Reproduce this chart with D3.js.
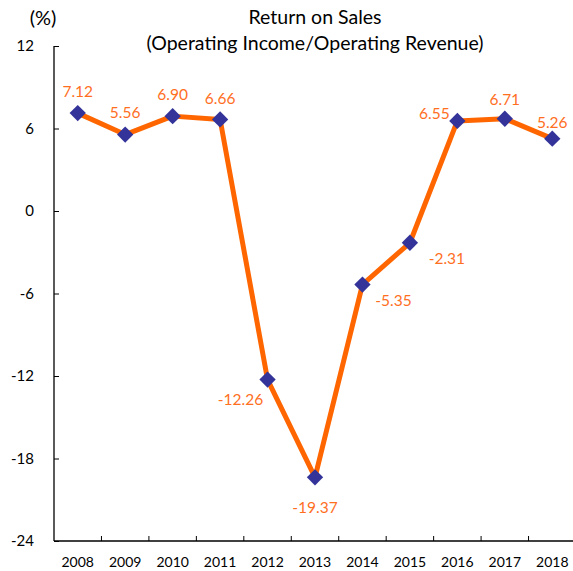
<!DOCTYPE html>
<html>
<head>
<meta charset="utf-8">
<script src="https://cdn.jsdelivr.net/npm/d3@7"></script>
<style>
  body { margin: 0; background: #fff; }
  svg { font-family: Lato, "Open Sans", sans-serif; }
</style>
</head>
<body>
<svg id="chart" width="573" height="571"></svg>
<script>
const years = ['2008', '2009', '2010', '2011', '2012', '2013', '2014', '2015', '2016', '2017', '2018'];
const values = [7.12, 5.56, 6.90, 6.66, -12.26, -19.37, -5.35, -2.31, 6.55, 6.71, 5.26];
const yTicks = [12, 6, 0, -6, -12, -18, -24];
// label offsets per point [dx, dy]
const labelOffsets = [
    [0, -22], [0, -22], [0, -22], [0, -21], [-27, 20], [0, 30],
    [31, 16], [37, 16], [-23, -7], [0, -19], [0, -16]
];

const svg = d3.select('#chart');
const plotLeft = 54;
const plotRight = 576;
const plotTop = 46;
const plotBottom = 541;

const x = d3.scaleBand().domain(years).range([plotLeft, plotRight]);
const y = d3.scaleLinear().domain([-24, 12]).range([plotBottom, plotTop]);

// y axis
const yAxis = svg.append('g')
    .attr('transform', `translate(${plotLeft},0)`)
    .call(d3.axisRight(y).tickValues(yTicks).tickSize(5).tickFormat(''));
yAxis.select('.domain').attr('stroke', '#000').attr('stroke-width', 1.3).attr('d', `M0,${plotTop}V${plotBottom}`);
yAxis.selectAll('.tick line').attr('stroke', '#000');

svg.append('g')
    .selectAll('text')
    .data(yTicks)
    .join('text')
    .attr('x', 34)
    .attr('y', (d) => y(d))
    .attr('dy', '0.35em')
    .attr('text-anchor', 'end')
    .attr('font-size', 15)
    .text((d) => d);

// x axis
const xAxis = svg.append('g')
    .attr('transform', `translate(0,${plotBottom})`);
xAxis.append('line')
    .attr('x1', plotLeft).attr('x2', plotRight)
    .attr('stroke', '#000').attr('stroke-width', 1.3);
xAxis.selectAll('.xt')
    .data(years.slice(1))
    .join('line')
    .attr('class', 'xt')
    .attr('x1', (d) => x(d)).attr('x2', (d) => x(d))
    .attr('y1', 0).attr('y2', -5)
    .attr('stroke', '#000');
xAxis.selectAll('text')
    .data(years)
    .join('text')
    .attr('x', (d) => x(d) + x.bandwidth() / 2)
    .attr('y', 21)
    .attr('dy', '0.35em')
    .attr('text-anchor', 'middle')
    .attr('font-size', 14)
    .text((d) => d);

// line
const line = d3.line()
    .x((d, i) => x(years[i]) + x.bandwidth() / 2)
    .y((d) => y(d));

svg.append('path')
    .datum(values)
    .attr('d', line)
    .attr('fill', 'none')
    .attr('stroke', '#FF6600')
    .attr('stroke-width', 5)
    .attr('stroke-linejoin', 'round');

svg.append('g')
    .selectAll('path')
    .data(values)
    .join('path')
    .attr('transform', (d, i) => `translate(${x(years[i]) + x.bandwidth() / 2},${y(d)})`)
    .attr('d', d3.symbol().type(d3.symbolDiamond2).size(170))
    .attr('fill', '#333399');

svg.append('g')
    .selectAll('text')
    .data(values)
    .join('text')
    .attr('x', (d, i) => x(years[i]) + x.bandwidth() / 2 + labelOffsets[i][0])
    .attr('y', (d, i) => y(d) + labelOffsets[i][1])
    .attr('dy', '0.35em')
    .attr('text-anchor', 'middle')
    .attr('font-size', 15.5)
    .attr('fill', '#FF6F1F')
    .text((d) => d.toFixed(2));

// titles
svg.append('text')
    .attr('x', 43).attr('y', 18).attr('dy', '0.35em')
    .attr('text-anchor', 'middle').attr('font-size', 20)
    .text('(%)');
svg.append('text')
    .attr('x', 315).attr('y', 17).attr('dy', '0.35em')
    .attr('text-anchor', 'middle').attr('font-size', 19.5)
    .text('Return on Sales');
svg.append('text')
    .attr('x', 315).attr('y', 43).attr('dy', '0.35em')
    .attr('text-anchor', 'middle').attr('font-size', 19.5)
    .text('(Operating Income/Operating Revenue)');
</script>
</body>
</html>
